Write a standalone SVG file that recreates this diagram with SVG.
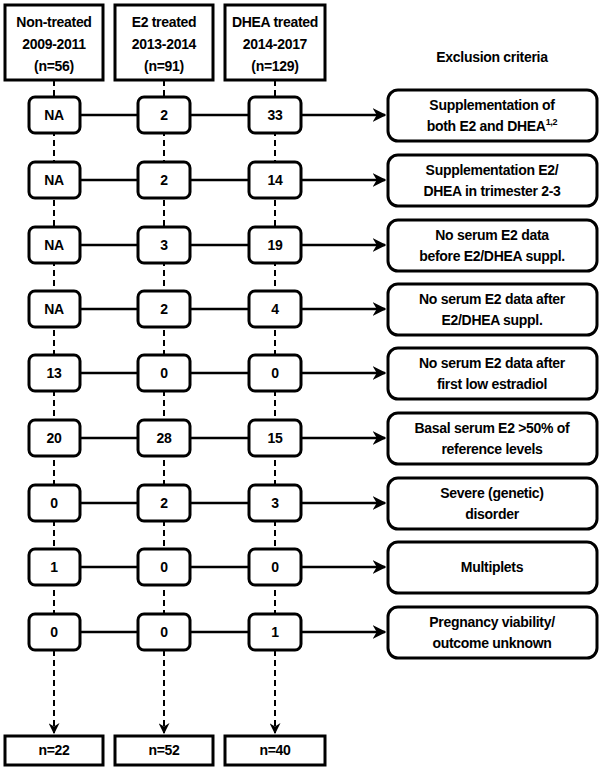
<svg xmlns="http://www.w3.org/2000/svg" width="603" height="770" viewBox="0 0 603 770">
<style>
text{font-family:"Liberation Sans",Arial,sans-serif;font-weight:bold;font-size:14px;text-anchor:middle;fill:#000;letter-spacing:-0.3px}
.b{fill:#fff;stroke:#000;stroke-width:3}
.d{stroke:#000;stroke-width:2;stroke-dasharray:6,4;fill:none}
.s{stroke:#000;stroke-width:2.5;fill:none}
</style>
<defs><marker id="a" viewBox="0 0 10 10" refX="9" refY="5" markerWidth="5.5" markerHeight="5.5" orient="auto" markerUnits="strokeWidth"><path d="M0,0 L10,5 L0,10 L3,5z" fill="#000"/></marker></defs>
<rect width="603" height="770" fill="#fff"/>
<g id="connectors">
<line class="d" x1="54" y1="80" x2="54" y2="733" marker-end="url(#a)"/>
<line class="d" x1="164" y1="80" x2="164" y2="733" marker-end="url(#a)"/>
<line class="d" x1="275" y1="80" x2="275" y2="733" marker-end="url(#a)"/>
<path class="s" d="M80,115H249M80,180H249M80,245H249M80,309H249M80,373H249M80,438H249M80,503H249M80,567H249M80,632H249"/>
<line class="s" x1="301" y1="115" x2="385" y2="115" marker-end="url(#a)"/>
<line class="s" x1="301" y1="180" x2="385" y2="180" marker-end="url(#a)"/>
<line class="s" x1="301" y1="245" x2="385" y2="245" marker-end="url(#a)"/>
<line class="s" x1="301" y1="309" x2="385" y2="309" marker-end="url(#a)"/>
<line class="s" x1="301" y1="373" x2="385" y2="373" marker-end="url(#a)"/>
<line class="s" x1="301" y1="438" x2="385" y2="438" marker-end="url(#a)"/>
<line class="s" x1="301" y1="503" x2="385" y2="503" marker-end="url(#a)"/>
<line class="s" x1="301" y1="567" x2="385" y2="567" marker-end="url(#a)"/>
<line class="s" x1="301" y1="632" x2="385" y2="632" marker-end="url(#a)"/>
</g>
<g id="top">
<rect class="b" x="5" y="5" width="98" height="75"/><text x="54" y="27">Non-treated</text><text x="54" y="49">2009-2011</text><text x="54" y="71">(n=56)</text>
<rect class="b" x="115" y="5" width="98" height="75"/><text x="164" y="27">E2 treated</text><text x="164" y="49">2013-2014</text><text x="164" y="71">(n=91)</text>
<rect class="b" x="225" y="5" width="100" height="75"/><text x="275" y="27">DHEA treated</text><text x="275" y="49">2014-2017</text><text x="275" y="71">(n=129)</text>
<text x="492" y="62">Exclusion criteria</text>
</g>
<g id="rows">
<rect class="b" x="29" y="97" width="51" height="36" rx="6"/><text x="54" y="120">NA</text>
<rect class="b" x="138" y="97" width="52" height="36" rx="6"/><text x="164" y="120">2</text>
<rect class="b" x="249" y="97" width="52" height="36" rx="6"/><text x="275" y="120">33</text>
<rect class="b" x="388" y="90" width="209" height="51" rx="10"/><text x="492" y="110">Supplementation of</text><text x="492" y="131">both E2 and DHEA<tspan dy="-6" style="font-size:9px">1,2</tspan></text>

<rect class="b" x="29" y="162" width="51" height="36" rx="6"/><text x="54" y="185">NA</text>
<rect class="b" x="138" y="162" width="52" height="36" rx="6"/><text x="164" y="185">2</text>
<rect class="b" x="249" y="162" width="52" height="36" rx="6"/><text x="275" y="185">14</text>
<rect class="b" x="388" y="155" width="209" height="51" rx="10"/><text x="492" y="175">Supplementation E2/</text><text x="492" y="196">DHEA in trimester 2-3</text>

<rect class="b" x="29" y="227" width="51" height="36" rx="6"/><text x="54" y="250">NA</text>
<rect class="b" x="138" y="227" width="52" height="36" rx="6"/><text x="164" y="250">3</text>
<rect class="b" x="249" y="227" width="52" height="36" rx="6"/><text x="275" y="250">19</text>
<rect class="b" x="388" y="220" width="209" height="51" rx="10"/><text x="492" y="240">No serum E2 data</text><text x="492" y="261">before E2/DHEA suppl.</text>

<rect class="b" x="29" y="291" width="51" height="36" rx="6"/><text x="54" y="314">NA</text>
<rect class="b" x="138" y="291" width="52" height="36" rx="6"/><text x="164" y="314">2</text>
<rect class="b" x="249" y="291" width="52" height="36" rx="6"/><text x="275" y="314">4</text>
<rect class="b" x="388" y="284" width="209" height="51" rx="10"/><text x="492" y="304">No serum E2 data after</text><text x="492" y="325">E2/DHEA suppl.</text>

<rect class="b" x="29" y="355" width="51" height="36" rx="6"/><text x="54" y="378">13</text>
<rect class="b" x="138" y="355" width="52" height="36" rx="6"/><text x="164" y="378">0</text>
<rect class="b" x="249" y="355" width="52" height="36" rx="6"/><text x="275" y="378">0</text>
<rect class="b" x="388" y="348" width="209" height="51" rx="10"/><text x="492" y="368">No serum E2 data after</text><text x="492" y="389">first low estradiol</text>

<rect class="b" x="29" y="420" width="51" height="36" rx="6"/><text x="54" y="443">20</text>
<rect class="b" x="138" y="420" width="52" height="36" rx="6"/><text x="164" y="443">28</text>
<rect class="b" x="249" y="420" width="52" height="36" rx="6"/><text x="275" y="443">15</text>
<rect class="b" x="388" y="413" width="209" height="51" rx="10"/><text x="492" y="433">Basal serum E2 &gt;50% of</text><text x="492" y="454">reference levels</text>

<rect class="b" x="29" y="485" width="51" height="36" rx="6"/><text x="54" y="508">0</text>
<rect class="b" x="138" y="485" width="52" height="36" rx="6"/><text x="164" y="508">2</text>
<rect class="b" x="249" y="485" width="52" height="36" rx="6"/><text x="275" y="508">3</text>
<rect class="b" x="388" y="478" width="209" height="51" rx="10"/><text x="492" y="498">Severe (genetic)</text><text x="492" y="519">disorder</text>

<rect class="b" x="29" y="549" width="51" height="36" rx="6"/><text x="54" y="572">1</text>
<rect class="b" x="138" y="549" width="52" height="36" rx="6"/><text x="164" y="572">0</text>
<rect class="b" x="249" y="549" width="52" height="36" rx="6"/><text x="275" y="572">0</text>
<rect class="b" x="388" y="542" width="209" height="51" rx="10"/><text x="492" y="572">Multiplets</text>

<rect class="b" x="29" y="614" width="51" height="36" rx="6"/><text x="54" y="637">0</text>
<rect class="b" x="138" y="614" width="52" height="36" rx="6"/><text x="164" y="637">0</text>
<rect class="b" x="249" y="614" width="52" height="36" rx="6"/><text x="275" y="637">1</text>
<rect class="b" x="388" y="607" width="209" height="51" rx="10"/><text x="492" y="627">Pregnancy viability/</text><text x="492" y="648">outcome unknown</text>
</g>
<g id="bottom">
<rect class="b" x="5" y="736" width="98" height="29"/><text x="54" y="755">n=22</text>
<rect class="b" x="115" y="736" width="98" height="29"/><text x="164" y="755">n=52</text>
<rect class="b" x="225" y="736" width="100" height="29"/><text x="275" y="755">n=40</text>
</g>
</svg>
